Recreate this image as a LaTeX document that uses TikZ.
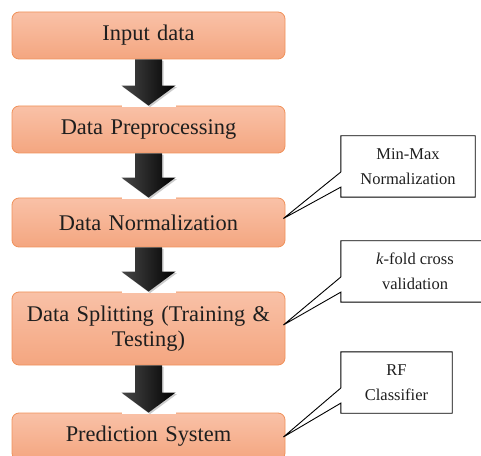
\documentclass[tikz,border=0pt]{standalone}
\usepackage{fontspec}
\setmainfont{Liberation Serif}
\usetikzlibrary{calc,shadows}

\definecolor{boxtop}{RGB}{249,193,167}
\definecolor{boxbot}{RGB}{244,166,128}
\definecolor{boxedge}{RGB}{240,145,90}
\definecolor{inktext}{RGB}{30,30,30}

\tikzset{
  stepbox/.style={rectangle, rounded corners=7pt, draw=boxedge, line width=0.8pt,
    top color=boxtop, bottom color=boxbot, minimum width=273pt, text width=262pt,
    align=center, font=\fontsize{22.4}{25}\selectfont, text=inktext, inner sep=0pt},
  note/.style={rectangle, minimum height=61pt, align=center,
    font=\fontsize{16.5}{25}\selectfont, text=inktext, inner sep=0pt},
  noteline/.style={draw=black, line width=0.9pt, line join=miter},
  flowarrow/.style={drop shadow={shadow xshift=1.5pt, shadow yshift=-1.5pt, opacity=0.4},
    left color=black!72, middle color=black, right color=black},
}

% thick block arrow from the bottom of one step to the top of the next
\newcommand\flowstep[2]{%
  \fill[white] ($(#2.north)+(-27,-1)$) rectangle ($(#2.north)+(27,1)$);
  \path[flowarrow] ($(#1.south)+(-13.5,0)$) -- ($(#2.north)+(-13.5,20)$)
    -- ($(#2.north)+(-27,20)$) -- (#2.north) -- ($(#2.north)+(27,20)$)
    -- ($(#2.north)+(13.5,20)$) -- ($(#1.south)+(13.5,0)$) -- cycle;}

% callout outline with a wedge pointing to a tip coordinate
\newcommand\calloutframe[2]{%
  \draw[noteline] (#1.south west) -- ($(#1.north west)!0.836!(#1.south west)$)
    -- (#2) -- ($(#1.north west)!0.59!(#1.south west)$) -- (#1.north west)
    -- (#1.north east) -- (#1.south east) -- cycle;}

\begin{document}
\begin{tikzpicture}[x=1pt, y=1pt]
  \useasboundingbox (0,0) rectangle (481,455);
  \clip (0,0) rectangle (481,455);

  % processing steps
  \node[stepbox, minimum height=47pt] (b1) at (148.5,419.5) {Input data};
  \node[stepbox, minimum height=47pt] (b2) at (148.5,325.5) {Data Preprocessing};
  \node[stepbox, minimum height=49pt] (b3) at (148.5,232.5) {Data Normalization};
  \node[stepbox, minimum height=73pt] (b4) at (148.5,126.5) {Data Splitting (Training \&\\Testing)};
  \node[stepbox, minimum height=47pt] (b5) at (148.5,18.5) {Prediction System};

  \flowstep{b1}{b2}
  \flowstep{b2}{b3}
  \flowstep{b3}{b4}
  \flowstep{b4}{b5}

  % callouts
  \node[note, minimum width=134pt] (n1) at (408,288.5) {Min-Max\\Normalization};
  \node[note, minimum width=148pt] (n2) at (415,183.5) {\textit{k}-fold cross\\validation};
  \node[note, minimum width=111pt] (n3) at (396.5,72.5) {RF\\Classifier};

  \coordinate (t1) at ($(b3.east)+(-2,4)$);
  \coordinate (t2) at ($(b4.east)+(-2,3.5)$);
  \coordinate (t3) at ($(b5.east)+(-2,-0.5)$);

  \calloutframe{n1}{t1}
  \calloutframe{n2}{t2}
  \calloutframe{n3}{t3}
\end{tikzpicture}
\end{document}
